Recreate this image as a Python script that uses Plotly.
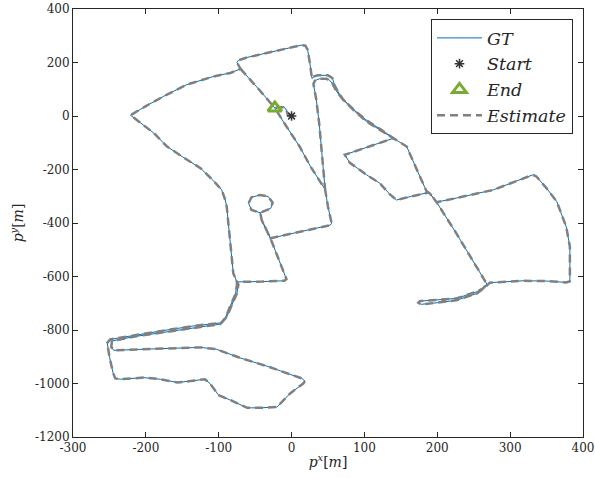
import plotly.graph_objects as go

# ---- trajectory pieces (metres) ----
hook_x = [0, -5, -8, -11, -17, -23]
hook_y = [0, 4, 28, 33, 33, 30]

diag_low_x = [-23, -8, 11, 26, 46]
diag_low_y = [30, -35, -114, -189, -274]

redge_low_x = [46, 50, 55, 53]
redge_low_y = [-274, -339, -401, -408]

bmid_x = [53, 12, -29]
bmid_y = [-408, -432, -457]

loop_x = [-29, -41, -43, -55, -59, -55, -43, -32, -26, -28.5, -36, -43, -41, -29]
loop_y = [-457, -389, -362, -351, -326, -304, -295, -301, -324, -345, -355, -362, -389, -457]

down_x = [-29, -7, -10, -40, -75]
down_y = [-457, -610, -616, -619, -620]

bl_x = [-75, -73, -75, -82, -89, -96, -135, -171, -217, -249, -253, -250, -245, -242, -235, -203,
        -180, -157, -139, -119, -112, -100, -84, -61, -43, -20, -2, 16, 18.5, 14, -34, -71, -103,
        -125, -194, -244, -247.5, -246.5, -217, -171, -134, -98, -91, -84, -77, -75, -75]
bl_y = [-620, -630, -663, -707, -751, -773, -785, -800, -819, -835, -848, -900, -960, -981, -984, -978,
        -984, -996, -991, -984, -1000, -1044, -1062, -1091, -1091, -1088, -1037, -1000, -991, -981, -935, -904, -872,
        -865, -871, -876, -863, -841, -825, -806, -791, -778, -755, -710, -665, -632, -620]

left_x = [-75, -80, -83, -86, -89, -91, -96, -108, -125, -150, -171, -189, -221]
left_y = [-620, -588, -500, -420, -339, -314, -276, -240, -195, -152, -114, -64, 3]

upper_x = [-221, -200, -176, -144, -107, -84, -70]
upper_y = [3, 37, 73, 117, 148, 161, 176]

top_x = [-70, -75, -73, -61, -16, 14, 19]
top_y = [176, 200, 208, 219, 248, 265, 263]

redge_up_x = [19, 22, 25, 28]
redge_up_y = [263, 248, 200, 140]

scurve1_x = [28, 31, 36, 50, 56, 59, 65, 71, 87, 103, 121, 140]
scurve1_y = [140, 148, 152, 152, 142, 115, 85, 61, 17, -21, -52, -83]

diag_r_x = [140, 158, 172, 185, 190, 199, 226, 268]
diag_r_y = [-83, -114, -201, -280, -290, -322, -438, -628]

hairpin_x = [268, 263, 254, 226, 199, 176, 174, 178, 200, 226, 254, 266, 272]
hairpin_y = [-628, -644, -657, -682, -688, -692, -698, -704, -698, -689, -664, -640, -623]

rloop_x = [272, 300, 318, 350, 377, 382, 382, 382, 377, 364, 350, 336, 331, 300, 277, 226, 199, 190]
rloop_y = [-623, -618, -616, -617, -622, -618, -550, -489, -414, -320, -270, -226, -220, -252, -276, -307, -322, -290]

vee_x = [188, 165, 144, 135, 121, 103, 80, 73, 140]
vee_y = [-286, -300, -314, -293, -251, -220, -175, -145, -83]

scurve2_x = [140, 121, 103, 87, 70, 61, 56, 52, 48, 38, 32, 30]
scurve2_y = [-83, -48, -16, 20, 63, 95, 122, 134, 139, 139, 132, 120]

redge_mid_x = [30, 34, 38, 43, 46]
redge_mid_y = [120, 60, -30, -180, -274]

diag_up_x = [-70, -58, -45, -23]
diag_up_y = [176, 140, 100, 30]

start_x, start_y = [0], [0]
end_x, end_y = [-23], [30]

x_ticks = [-300, -200, -100, 0, 100, 200, 300, 400]
x_ticktext = ["-300", "-200", "-100", "0", "100", "200", "300", "400"]
y_ticks = [-1200, -1000, -800, -600, -400, -200, 0, 200, 400]
y_ticktext = ["-1200", "-1000", "-800", "-600", "-400", "-200", "0", "200", "400"]

part1 = [(hook_x, hook_y), (diag_low_x, diag_low_y), (redge_low_x, redge_low_y), (bmid_x, bmid_y),
         (loop_x, loop_y), (down_x, down_y), (bl_x, bl_y), (left_x, left_y), (upper_x, upper_y),
         (top_x, top_y), (redge_up_x, redge_up_y), (scurve1_x, scurve1_y), (diag_r_x, diag_r_y),
         (hairpin_x, hairpin_y), (rloop_x, rloop_y), (vee_x, vee_y), (scurve2_x, scurve2_y),
         (redge_mid_x, redge_mid_y)]
part2 = [(diag_up_x, diag_up_y)]

def join(parts):
    xs, ys = [], []
    for px, py in parts:
        xs += list(px)
        ys += list(py)
    return xs, ys

x1, y1 = join(part1)
x2, y2 = join(part2)
traj_x = x1 + [None] + x2
traj_y = y1 + [None] + y2

SERIF = "DejaVu Serif"
AX = "#262626"

fig = go.Figure()
fig.add_trace(go.Scatter(x=traj_x, y=traj_y, mode="lines", name="<i>GT</i>",
                         line=dict(color="#0072BD", width=1), legendrank=1))
fig.add_trace(go.Scatter(x=traj_x, y=traj_y, mode="lines", name="<i>Estimate</i>",
                         line=dict(color="rgb(128,128,128)", width=2.5, dash="8px,5px"),
                         legendrank=4))
fig.add_trace(go.Scatter(x=start_x, y=start_y, mode="markers", name="<i>Start</i>",
                         marker=dict(symbol="asterisk-open", size=8, color="#333333",
                                     line=dict(width=1.5, color="#333333")), legendrank=2))
fig.add_trace(go.Scatter(x=end_x, y=end_y, mode="markers", name="<i>End</i>",
                         marker=dict(symbol="triangle-up-open", size=12, color="#77AC30",
                                     line=dict(width=3, color="#77AC30")), legendrank=3))

axis_common = dict(showgrid=False, zeroline=False, showline=True, linecolor=AX, linewidth=1,
                   mirror="ticks", ticks="inside", ticklen=5, tickcolor=AX, automargin=False,
                   tickfont=dict(family=SERIF, size=12, color=AX))

fig.update_layout(
    width=595, height=478,
    margin=dict(l=73, r=12, t=9, b=41),
    paper_bgcolor="white", plot_bgcolor="white",
    showlegend=True,
    legend=dict(x=0.9804, y=0.9766, xanchor="right", yanchor="top",
                bgcolor="white", bordercolor=AX, borderwidth=1,
                font=dict(family=SERIF, size=17.5, color=AX), itemwidth=45,
                tracegroupgap=0),
    xaxis=dict(range=[-300, 400], tickvals=x_ticks, ticktext=x_ticktext,
               title=dict(text="<i>p</i><sup><i>x</i></sup>[<i>m</i>]",
                          font=dict(family=SERIF, size=14, color=AX), standoff=2),
               **axis_common),
    yaxis=dict(range=[-1200, 400], tickvals=y_ticks, ticktext=y_ticktext,
               title=dict(text="<i>p</i><sup><i>y</i></sup>[<i>m</i>]",
                          font=dict(family=SERIF, size=14, color=AX), standoff=8),
               **axis_common),
)

fig.write_html("out.html")
